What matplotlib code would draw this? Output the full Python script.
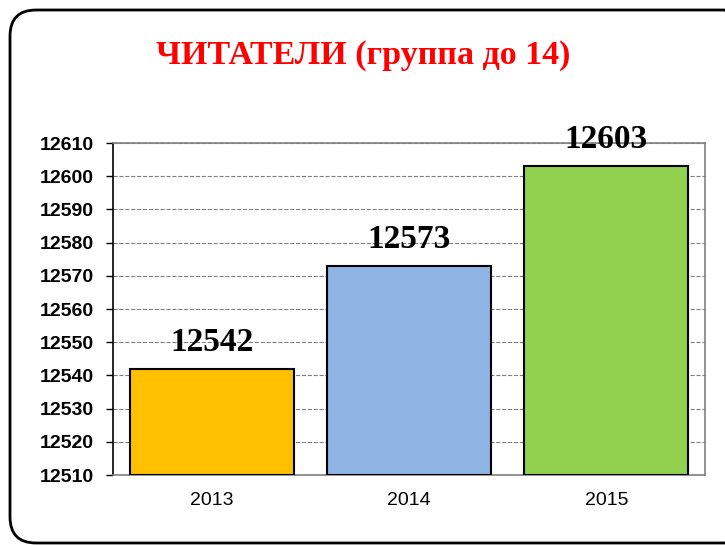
import matplotlib.pyplot as plt
from matplotlib.patches import FancyBboxPatch

years = ['2013', '2014', '2015']
readers = [12542, 12573, 12603]
colors = ['#FFC000', '#8EB4E3', '#92D050']

fig = plt.figure(figsize=(7.25, 5.45), dpi=100)

# rounded frame around the chart
frame = FancyBboxPatch((10 / 725, 2 / 545), 740 / 725, 533 / 545,
                       boxstyle='round,pad=0,rounding_size=0.036',
                       transform=fig.transFigure, fill=False,
                       edgecolor='black', linewidth=2, mutation_aspect=725 / 545)
fig.patches.append(frame)

ax = fig.add_axes([113 / 725, 70 / 545, 592 / 725, 332 / 545])
x = range(len(years))
bars = ax.bar(x, [r - 12510 for r in readers], bottom=12510, width=0.83,
              color=colors, edgecolor='black', linewidth=1.5, zorder=3)

for xi, val in zip(x, readers):
    ax.annotate(str(val), (xi, val), xytext=(0, 8), textcoords='offset points',
                ha='center', va='bottom', fontsize=24, fontweight='bold',
                family='Liberation Serif')

ax.set_ylim(12510, 12610)
ax.set_xlim(-0.5, 2.5)
ax.set_yticks(range(12510, 12611, 10))
ax.set_xticks(list(x))
ax.set_xticklabels(years, family='Liberation Sans', fontsize=14)
for lbl in ax.get_yticklabels():
    lbl.set_family('Liberation Sans')
    lbl.set_fontweight('bold')
    lbl.set_fontsize(14)
ax.tick_params(axis='x', length=0, pad=12)
ax.tick_params(axis='y', length=5, width=1, direction='out', pad=9)
ax.yaxis.grid(True, linestyle='--', color='#808080', linewidth=0.8, zorder=0)
for s in ['top', 'right', 'bottom']:
    ax.spines[s].set_color('#808080')
    ax.spines[s].set_linewidth(1.2)
ax.spines['left'].set_color('black')
ax.spines['left'].set_linewidth(1.2)

fig.text(363 / 725, 1 - 55 / 545, 'ЧИТАТЕЛИ (группа до 14)', color='red',
         fontsize=24.5, fontweight='bold', family='Liberation Serif',
         ha='center', va='center')

fig.savefig('out.png', dpi=100)
